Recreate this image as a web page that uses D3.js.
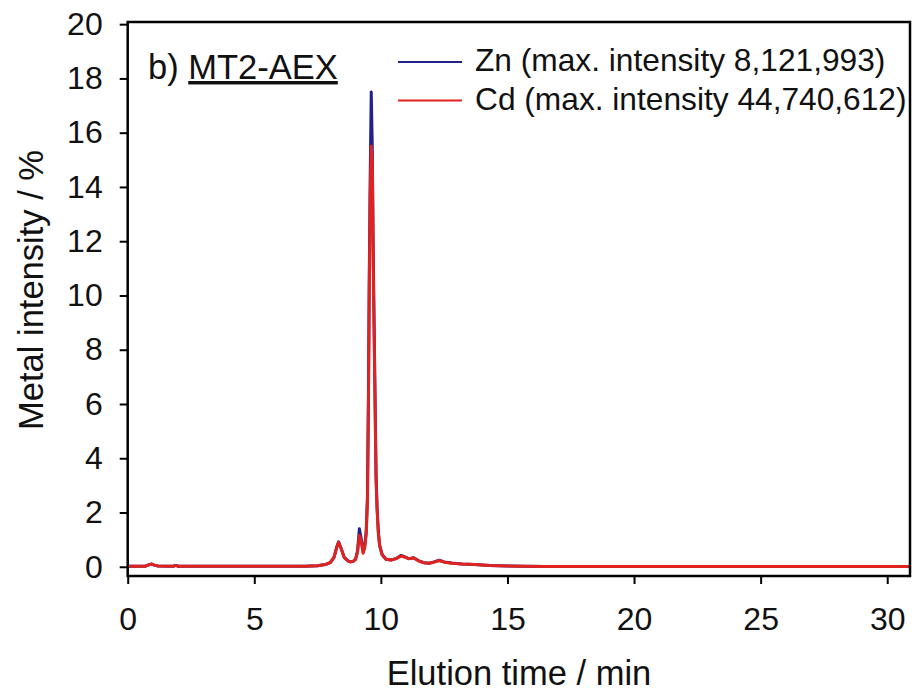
<!DOCTYPE html>
<html>
<head>
<meta charset="utf-8">
<script src="https://cdn.jsdelivr.net/npm/d3@7"></script>
<style>
  body { margin: 0; background: #fff; }
  svg { display: block; font-family: "Liberation Sans", Arial, sans-serif; }
</style>
</head>
<body>
<div id="chart"></div>
<script>
// elution time (min) and normalised metal intensity (%)
const times = [0, 0.7, 0.85, 0.95, 1.05, 1.2, 1.8, 1.9, 2.0, 7.0, 7.5, 7.8, 8.0, 8.15, 8.25, 8.33, 8.42, 8.55,
  8.7, 8.8, 8.9, 9.0, 9.08, 9.15, 9.22, 9.3, 9.36, 9.42, 9.47, 9.51, 9.54, 9.58, 9.62, 9.66, 9.70, 9.73,
  9.77, 9.81, 9.85, 9.9, 9.95, 10.05, 10.2, 10.4, 10.6, 10.8, 10.9, 11.1, 11.3, 11.5, 11.7, 11.9, 12.1,
  12.3, 12.5, 12.8, 13.2, 13.7, 14.3, 15.0, 15.6, 16.5, 20, 25, 30.9];
const zn = [0.02, 0.02, 0.08, 0.1, 0.06, 0.03, 0.02, 0.05, 0.02, 0.02, 0.04, 0.08, 0.15, 0.35, 0.7, 0.92, 0.7, 0.35,
  0.22, 0.18, 0.2, 0.28, 0.6, 1.4, 1.05, 0.55, 0.75, 1.3, 2.6, 6.5, 10.6, 14.5, 17.5, 15.5, 11.5, 9.2,
  6.3, 3.4, 2.2, 1.3, 0.8, 0.45, 0.28, 0.25, 0.3, 0.42, 0.38, 0.3, 0.33, 0.22, 0.15, 0.13, 0.18,
  0.24, 0.18, 0.14, 0.1, 0.08, 0.05, 0.03, 0.02, 0.01, 0.01, 0.01, 0.01];
const cd = [0.02, 0.02, 0.08, 0.1, 0.06, 0.03, 0.02, 0.05, 0.02, 0.02, 0.04, 0.08, 0.15, 0.35, 0.7, 0.9, 0.7, 0.35,
  0.22, 0.18, 0.2, 0.27, 0.55, 1.15, 0.95, 0.5, 0.7, 1.2, 2.4, 6.0, 10.0, 13.8, 15.5, 15.0, 11.0, 8.8,
  6.0, 3.2, 2.1, 1.25, 0.78, 0.44, 0.28, 0.25, 0.3, 0.4, 0.37, 0.3, 0.32, 0.21, 0.15, 0.13, 0.17,
  0.23, 0.17, 0.13, 0.1, 0.08, 0.05, 0.03, 0.02, 0.01, 0.01, 0.01, 0.01];
const seriesNames = ["Zn (max. intensity 8,121,993)", "Cd (max. intensity 44,740,612)"];
const seriesColors = ["#22208f", "#e0231e"];
const xTicks = [0, 5, 10, 15, 20, 25, 30];
const yTicks = [0, 2, 4, 6, 8, 10, 12, 14, 16, 18, 20];

const width = 914, height = 694;
const plotLeft = 127.7, plotRight = 910, plotTop = 22, plotBottom = 576;

const x = d3.scaleLinear().domain([0, 30.9]).range([plotLeft, plotRight]);
const y = d3.scaleLinear().domain([-0.34, 20.08]).range([plotBottom, plotTop]);

const svg = d3.select("#chart").append("svg")
    .attr("width", width)
    .attr("height", height);

// axes
const xAxis = svg.append("g")
    .attr("transform", `translate(0,${plotBottom})`)
    .call(d3.axisBottom(x).tickValues(xTicks).tickSize(8).tickPadding(23).tickSizeOuter(0));
const yAxis = svg.append("g")
    .attr("transform", `translate(${plotLeft},0)`)
    .call(d3.axisLeft(y).tickValues(yTicks).tickSize(8).tickPadding(17).tickSizeOuter(0));

[xAxis, yAxis].forEach(g => {
  g.select(".domain").remove();
  g.selectAll(".tick line").attr("stroke", "#000").attr("stroke-width", 2);
  g.selectAll(".tick text")
      .attr("fill", "#111")
      .attr("font-size", 32)
      .attr("font-family", "Liberation Sans, Arial, sans-serif");
});

// data lines
const line = d3.line()
    .x(d => x(d[0]))
    .y(d => y(d[1]));

[zn, cd].forEach((vals, i) => {
  svg.append("path")
      .datum(times.map((t, j) => [t, vals[j]]))
      .attr("fill", "none")
      .attr("stroke", seriesColors[i])
      .attr("stroke-width", 3)
      .attr("stroke-linejoin", "round")
      .attr("d", line);
});

// frame
svg.append("rect")
    .attr("x", plotLeft)
    .attr("y", plotTop)
    .attr("width", plotRight - plotLeft)
    .attr("height", plotBottom - plotTop)
    .attr("fill", "none")
    .attr("stroke", "#000")
    .attr("stroke-width", 2.5);

// axis titles
svg.append("text")
    .attr("x", 519)
    .attr("y", 685)
    .attr("text-anchor", "middle")
    .attr("font-size", 34.5)
    .attr("fill", "#111")
    .text("Elution time / min");

svg.append("text")
    .attr("transform", `translate(43,290) rotate(-90)`)
    .attr("text-anchor", "middle")
    .attr("font-size", 34.5)
    .attr("fill", "#111")
    .text("Metal intensity / %");

// panel label
const label = svg.append("text")
    .attr("x", 148)
    .attr("y", 79)
    .attr("font-size", 34.5)
    .attr("fill", "#111");
label.append("tspan").text("b) ");
label.append("tspan").attr("text-decoration", "underline").text("MT2-AEX");

// legend
const legend = svg.append("g");
seriesNames.forEach((name, i) => {
  const ly = 62 + i * 38.5;
  legend.append("line")
      .attr("x1", 398).attr("x2", 462)
      .attr("y1", ly).attr("y2", ly)
      .attr("stroke", seriesColors[i])
      .attr("stroke-width", 2);
  legend.append("text")
      .attr("x", 475)
      .attr("y", ly + 9)
      .attr("font-size", 31.7)
      .attr("fill", "#111")
      .text(name);
});
</script>
</body>
</html>
